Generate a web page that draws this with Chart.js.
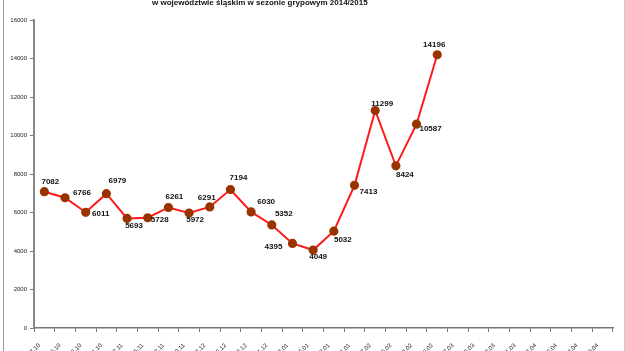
<!DOCTYPE html>
<html lang="pl">
<head>
    <meta charset="UTF-8">
    <title>Zachorowania na grypę</title>
    <script src="https://cdn.jsdelivr.net/npm/chart.js"></script>
    <style>
        html, body { margin: 0; padding: 0; background: #fff; }
        .wrap { position: relative; width: 625px; height: 351px; overflow: hidden; }
        .frame { position: absolute; left: 3px; top: 0; width: 620px; height: 351px;
                 border-left: 1px solid #9a9a9a; border-right: 1px solid #c8c8c8; pointer-events: none; }
        .title { position: absolute; left: 152px; top: -2px; font: bold 8px "Liberation Sans", Arial, sans-serif;
                 color: #111; white-space: nowrap; }
        canvas { position: absolute; left: 0; top: 0; }
    </style>
</head>
<body>
    <div class="wrap">
        <canvas id="fluChart" width="625" height="351"></canvas>
        <div class="title">w województwie śląskim w sezonie grypowym 2014/2015</div>
        <div class="frame"></div>
    </div>

    <script>
        // okresy tygodniowe sezonu 2014/2015
        const periods = [
            "01.10-07.10", "08.10-15.10", "16.10-22.10", "23.10-31.10",
            "01.11-07.11", "08.11-15.11", "16.11-22.11", "23.11-30.11",
            "01.12-07.12", "08.12-15.12", "16.12-22.12", "23.12-31.12",
            "01.01-07.01", "08.01-15.01", "16.01-22.01", "23.01-31.01",
            "01.02-07.02", "08.02-15.02", "16.02-22.02", "23.02-28.02",
            "01.03-07.03", "08.03-15.03", "16.03-22.03", "23.03-31.03",
            "01.04-07.04", "08.04-15.04", "16.04-22.04", "23.04-30.04"
        ];

        // liczba zachorowań (brak danych dla dalszych tygodni)
        const cases = [
            7082, 6766, 6011, 6979, 5693, 5728, 6261, 5972, 6291, 7194,
            6030, 5352, 4395, 4049, 5032, 7413, 11299, 8424, 10587, 14196,
            null, null, null, null, null, null, null, null
        ];

        const yTicks = [0, 2000, 4000, 6000, 8000, 10000, 12000, 14000, 16000];

        // przesunięcia etykiet wartości względem punktu (px)
        const labelOffsets = [
            [6, -10], [17, -5], [15, 2], [11, -13], [7, 7], [12, 2], [6, -11], [6, 7],
            [-3, -9], [8, -12], [15, -10], [12, -11], [-19, 3], [5, 7], [9, 9], [14, 6],
            [7, -7], [9, 9], [14, 5], [-3, -10]
        ];

        const valueLabels = {
            id: "valueLabels",
            afterDatasetsDraw(chart) {
                const ctx = chart.ctx;
                const meta = chart.getDatasetMeta(0);
                ctx.save();
                ctx.font = "bold 8px 'Liberation Sans', Arial, sans-serif";
                ctx.fillStyle = "#111";
                ctx.textAlign = "center";
                ctx.textBaseline = "middle";
                meta.data.forEach((pt, i) => {
                    const v = cases[i];
                    if (v === null || pt.skip) return;
                    const off = labelOffsets[i] || [0, -10];
                    ctx.fillText(String(v), pt.x + off[0], pt.y + off[1]);
                });
                ctx.restore();
            }
        };

        new Chart(document.getElementById("fluChart").getContext("2d"), {
            type: "line",
            data: {
                labels: periods,
                datasets: [{
                    data: cases,
                    borderColor: "#ff1a1a",
                    borderWidth: 2,
                    backgroundColor: "#993300",
                    pointBackgroundColor: "#993300",
                    pointBorderColor: "#993300",
                    pointRadius: 3.6,
                    pointHoverRadius: 3.6,
                    tension: 0,
                    spanGaps: false
                }]
            },
            options: {
                responsive: false,
                animation: false,
                layout: { padding: { left: 0, right: 12, top: 20, bottom: 0 } },
                plugins: {
                    legend: { display: false },
                    title: { display: false },
                    tooltip: { enabled: false }
                },
                scales: {
                    x: {
                        offset: true,
                        grid: {
                            offset: true,
                            drawOnChartArea: false,
                            drawTicks: true,
                            tickLength: 4,
                            color: "#777"
                        },
                        border: { color: "#777", width: 1.5 },
                        ticks: {
                            autoSkip: false,
                            minRotation: 45,
                            maxRotation: 45,
                            padding: 10,
                            labelOffset: -5,
                            color: "#222",
                            font: { family: "'Liberation Sans', Arial, sans-serif", size: 6 }
                        },
                        afterFit(scale) { scale.height = 23; }
                    },
                    y: {
                        min: 0,
                        max: 16000,
                        afterBuildTicks(scale) { scale.ticks = yTicks.map(v => ({ value: v })); },
                        grid: {
                            drawOnChartArea: false,
                            drawTicks: true,
                            tickLength: 4,
                            color: "#777"
                        },
                        border: { color: "#888", width: 2 },
                        ticks: {
                            padding: 3,
                            color: "#222",
                            callback: v => String(v),
                            font: { family: "'Liberation Sans', Arial, sans-serif", size: 6 }
                        },
                        afterFit(scale) { scale.width = 34; }
                    }
                }
            },
            plugins: [valueLabels]
        });
    </script>
</body>
</html>
